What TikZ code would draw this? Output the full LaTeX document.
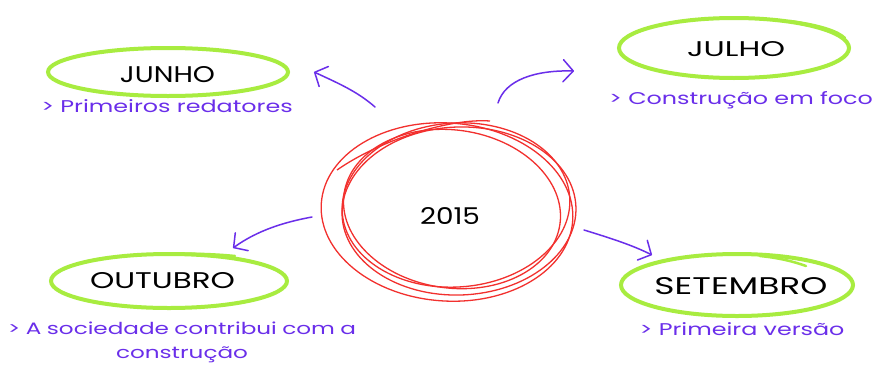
\documentclass[tikz,border=0pt]{standalone}
\usepackage{fontspec}
\setmainfont{Poppins}
\newfontfamily\descfont{Poppins}[FakeStretch=1.4]
\usetikzlibrary{arrows.meta}
\definecolor{lime}{HTML}{A8EC40}
\definecolor{violet}{HTML}{6A2EEA}
\definecolor{redline}{HTML}{F2302E}
\newcommand\fitbox[3]{\resizebox{#1pt}{#2pt}{#3}}
\tikzset{
  monthring/.style={draw=lime, line width=4pt},
  ringtail/.style={draw=lime, line width=2.5pt, line cap=round},
  monthlabel/.style={text=black, inner sep=0pt, font=\fontsize{22}{24}\selectfont},
  desc/.style={text=violet, font=\descfont\fontsize{17}{24}\selectfont, align=center},
  flow/.style={draw=violet, line width=1.5pt, line cap=round, -{Straight Barb[length=10pt,width=22pt,round]}},
  scribble/.style={draw=redline, line width=1.3pt}
}
\begin{document}
\begin{tikzpicture}[x=1pt,y=-1pt]
\useasboundingbox[fill=white] (0,0) rectangle (875,367);
% green rings
\draw[monthring] (168,72) ellipse [x radius=120, y radius=24];
\draw[monthring] (734,48) ellipse [x radius=115, y radius=30];
\draw[ringtail] (790,21) .. controls (820,25) and (838,31) .. (845,38);
\draw[monthring] (169,281) ellipse [x radius=118, y radius=27];
\draw[ringtail] (155,254) .. controls (190,253) and (215,254) .. (235,256);
\draw[monthring] (737,285) ellipse [x radius=116, y radius=31];
\draw[ringtail] (760,256) .. controls (780,258) and (795,262) .. (806,266);
% red scribble
\draw[scribble, rotate around={-4:(447,212)}] (447,212) ellipse [x radius=126, y radius=89];
\draw[scribble, rotate around={4:(456,205)}] (456,205) ellipse [x radius=114, y radius=82];
\draw[scribble, rotate around={-8:(452,209)}] (452,209) ellipse [x radius=109, y radius=79];
\draw[scribble, rotate around={2:(459,211)}] (459,211) ellipse [x radius=117, y radius=84];
\draw[scribble] (337,170) .. controls (380,140) and (450,118) .. (490,121);
% nodes
\node[monthlabel] (junho) at (167.5,75) {\fitbox{95}{16}{JUNHO}};
\node[desc] (djunho) at (167,106) {> Primeiros redatores};
\node[monthlabel] (julho) at (736,49.5) {\fitbox{98}{15}{JULHO}};
\node[desc] (djulho) at (741,100) {> Construção em foco};
\node[monthlabel] (year) at (450,216.5) {\fitbox{60}{17}{2015}};
\node[monthlabel] (outubro) at (162.5,281) {\fitbox{145}{16}{OUTUBRO}};
\node[desc, text width=380pt, font=\descfont\fontsize{16.5}{24}\selectfont] (doutubro) at (182,342) {> A sociedade contribui com a\\construção};
\node[monthlabel] (setembro) at (741,286.5) {\fitbox{173}{17}{SETEMBRO}};
\node[desc] (dsetembro) at (742,329) {> Primeira versão};
% connector ends
\coordinate (a1s) at (375,107); \coordinate (a1e) at (314,72);
\coordinate (a2s) at (498,103); \coordinate (a2e) at (574,71);
\coordinate (a3s) at (312,217); \coordinate (a3e) at (233,248);
\coordinate (a4s) at (584,230); \coordinate (a4e) at (652,255);
\draw[flow] (a1s) .. controls (358,92) and (340,84) .. (a1e);
\draw[flow] (a2s) .. controls (505,80) and (535,70) .. (a2e);
\draw[flow] (a3s) .. controls (285,222) and (258,230) .. (a3e);
\draw[flow] (a4s) .. controls (610,238) and (632,245) .. (a4e);
\end{tikzpicture}
\end{document}
